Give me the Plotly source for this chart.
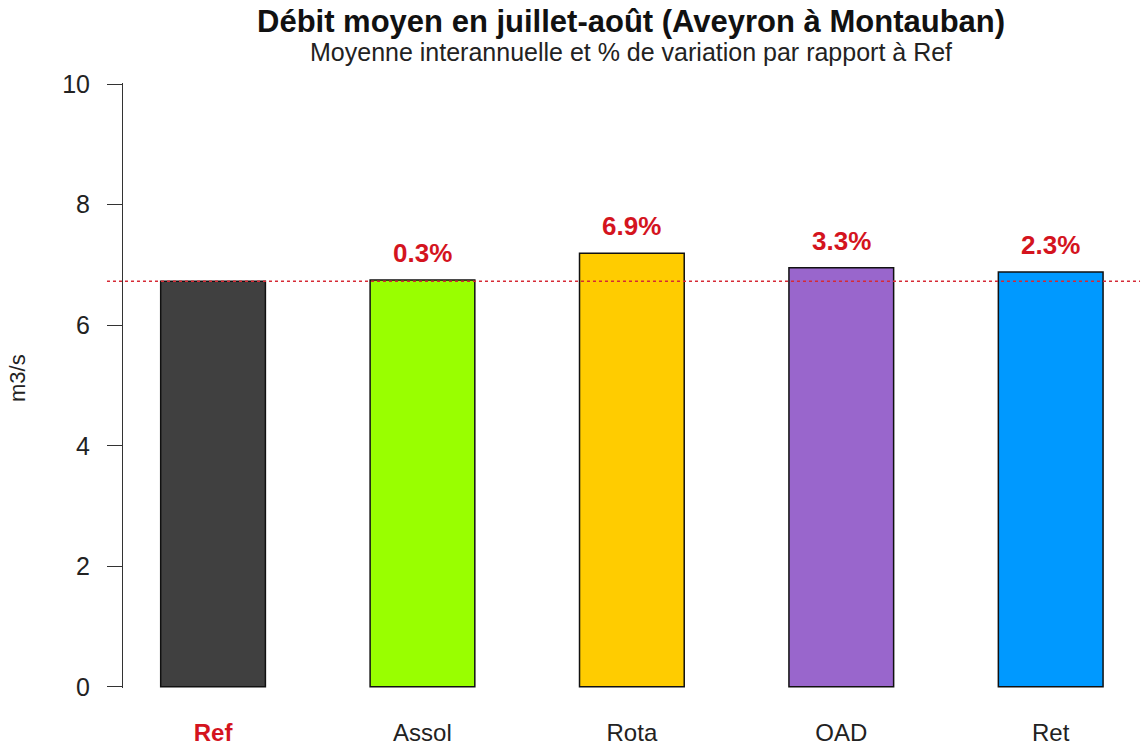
import plotly.graph_objects as go

# Mean July-August discharge per scenario (m3/s)
scenarios = ["Ref", "Assol", "Rota", "OAD", "Ret"]
debits = [6.73, 6.75, 7.195, 6.952, 6.885]
couleurs = ["#404040", "#99FF00", "#FFCC00", "#9966CC", "#0099FF"]
graduations = [0, 2, 4, 6, 8, 10]

ROUGE = "#D4141E"
POLICE = "Liberation Sans, Arial, sans-serif"

ref = debits[0]
variations = [(v / ref - 1) * 100 for v in debits]

ticktext = [f"<span style='color:{ROUGE}'><b>{scenarios[0]}</b></span>"] + scenarios[1:]

fig = go.Figure()
fig.add_trace(go.Bar(
    x=scenarios,
    y=debits,
    width=0.5,
    marker=dict(color=couleurs, line=dict(color="#111111", width=1.5)),
    hoverinfo="x+y",
))

# Reference level
fig.add_shape(type="line", xref="paper", yref="y",
              x0=-0.016, x1=1.016, y0=ref, y1=ref,
              line=dict(color="#D62A35", width=1.5, dash="dot"))

# Percentage labels above the scenario bars
for s, v, p in zip(scenarios[1:], debits[1:], variations[1:]):
    fig.add_annotation(x=s, y=v, xref="x", yref="y", text=f"<b>{p:.1f}%</b>",
                       showarrow=False, yanchor="middle", yshift=27,
                       font=dict(family=POLICE, size=26, color=ROUGE))

# Title and subtitle
fig.add_annotation(x=0.5075, y=1, xref="paper", yref="paper",
                   text="<b>Débit moyen en juillet-août (Aveyron à Montauban)</b>",
                   showarrow=False, yanchor="middle", yshift=62,
                   font=dict(family=POLICE, size=31, color="#111111"))
fig.add_annotation(x=0.5075, y=1, xref="paper", yref="paper",
                   text="Moyenne interannuelle et % de variation par rapport à Ref",
                   showarrow=False, yanchor="middle", yshift=31,
                   font=dict(family=POLICE, size=25, color="#222222"))

# Y axis title
fig.add_annotation(x=0, y=0.5, xref="paper", yref="paper", text="m3/s",
                   showarrow=False, textangle=-90, xshift=-120, yshift=7,
                   font=dict(family=POLICE, size=22, color="#222222"))

fig.update_layout(
    width=1143, height=749,
    margin=dict(l=123, r=19, t=83, b=61, autoexpand=False),
    paper_bgcolor="white", plot_bgcolor="white",
    showlegend=False,
    font=dict(family=POLICE, color="#222222"),
)
fig.update_xaxes(
    range=[-0.43, 4.35],
    tickvals=scenarios, ticktext=ticktext,
    showline=False, showgrid=False, zeroline=False, ticks="",
    ticklabelstandoff=28, automargin=False,
    tickfont=dict(family=POLICE, size=24, color="#222222"),
)
fig.update_yaxes(
    range=[-0.02, 10.02],
    tickvals=graduations, ticktext=[str(g) for g in graduations],
    showline=True, linecolor="#333333", linewidth=1,
    ticks="outside", ticklen=15, tickcolor="#333333", tickwidth=1,
    ticklabelstandoff=12, automargin=False,
    showgrid=False, zeroline=False,
    tickfont=dict(family=POLICE, size=25, color="#222222"),
)

fig.write_html("out.html")
